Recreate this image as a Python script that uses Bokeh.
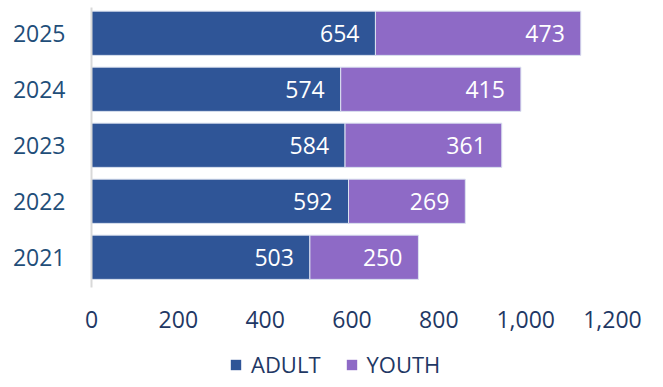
from bokeh.plotting import figure
from bokeh.layouts import column
from bokeh.models import ColumnDataSource, Range1d, FixedTicker, Legend, LegendItem, LabelSet, NumeralTickFormatter
from bokeh.core.properties import value
from bokeh.embed import file_html
from bokeh.resources import INLINE

years = [2021, 2022, 2023, 2024, 2025]
year_labels = ["2021", "2022", "2023", "2024", "2025"]
adult = [503, 592, 584, 574, 654]
youth = [250, 269, 361, 415, 473]
x_ticks = [0, 200, 400, 600, 800, 1000, 1200]
series = ["ADULT", "YOUTH"]

ADULT_C = "#2F5597"
YOUTH_C = "#8E6AC6"
FONT = "Open Sans"

src = ColumnDataSource(dict(
    y=years,
    adult=adult,
    youth=youth,
    total=[a + b for a, b in zip(adult, youth)],
    adult_txt=[str(a) for a in adult],
    youth_txt=[str(b) for b in youth],
))

p = figure(frame_width=521, frame_height=280, output_backend="svg", toolbar_location=None,
           x_range=Range1d(0, 1200), y_range=Range1d(2020.46, 2025.46),
           min_border_left=91, min_border_right=35, min_border_top=7, min_border_bottom=50)

r1 = p.hbar(y="y", left=0, right="adult", height=0.79, source=src,
            fill_color=ADULT_C, line_color="#DCE3F0", line_width=1)
r2 = p.hbar(y="y", left="adult", right="total", height=0.79, source=src,
            fill_color=YOUTH_C, line_color="#DCE3F0", line_width=1)

p.add_layout(LabelSet(x="adult", y="y", text="adult_txt", source=src, x_offset=-16,
                      text_align="right", text_baseline="middle", text_color="white",
                      text_font=value(FONT), text_font_size="23px"))
p.add_layout(LabelSet(x="total", y="y", text="youth_txt", source=src, x_offset=-16,
                      text_align="right", text_baseline="middle", text_color="white",
                      text_font=value(FONT), text_font_size="23px"))

p.xgrid.visible = False
p.ygrid.visible = False
p.outline_line_color = None

xa = p.xaxis[0]
xa.ticker = FixedTicker(ticks=x_ticks)
xa.formatter = NumeralTickFormatter(format="0,0")
xa.axis_line_color = None
xa.major_tick_line_color = None
xa.minor_tick_line_color = None
xa.major_label_text_font = FONT
xa.major_label_text_font_size = "23px"
xa.major_label_text_color = "#1F3864"
xa.major_label_standoff = 17

ya = p.yaxis[0]
ya.ticker = FixedTicker(ticks=years)
ya.major_label_overrides = {y: l for y, l in zip(years, year_labels)}
ya.axis_line_color = "#D9D9D9"
ya.axis_line_width = 2
ya.major_tick_line_color = None
ya.minor_tick_line_color = None
ya.major_label_text_font = FONT
ya.major_label_text_font_size = "23px"
ya.major_label_text_color = "#1F4E79"
ya.major_label_standoff = 20

# legend in its own strip below the chart (renderers hidden, same data)
q = figure(width=647, height=42, output_backend="svg", toolbar_location=None,
           x_range=Range1d(0, 1200), y_range=Range1d(2020.46, 2025.46),
           x_axis_location=None, y_axis_location=None,
           min_border=0, outline_line_color=None)
q.grid.visible = False
g1 = q.hbar(y="y", left=0, right="adult", height=0.79, source=src,
            fill_color=ADULT_C, line_color=None, visible=False)
g2 = q.hbar(y="y", left="adult", right="total", height=0.79, source=src,
            fill_color=YOUTH_C, line_color=None, visible=False)
legend = Legend(items=[LegendItem(label=series[0], renderers=[g1]),
                       LegendItem(label=series[1], renderers=[g2])],
                orientation="horizontal", location=(138, 0),
                label_text_font=FONT, label_text_font_size="22px",
                label_text_color="#1F3864", glyph_width=13, glyph_height=13,
                border_line_color=None, background_fill_alpha=0,
                inactive_fill_alpha=0,
                spacing=24, padding=0, margin=0, label_standoff=9)
q.add_layout(legend, "center")

open("out.html", "w").write(file_html(column(p, q, spacing=0), INLINE))
